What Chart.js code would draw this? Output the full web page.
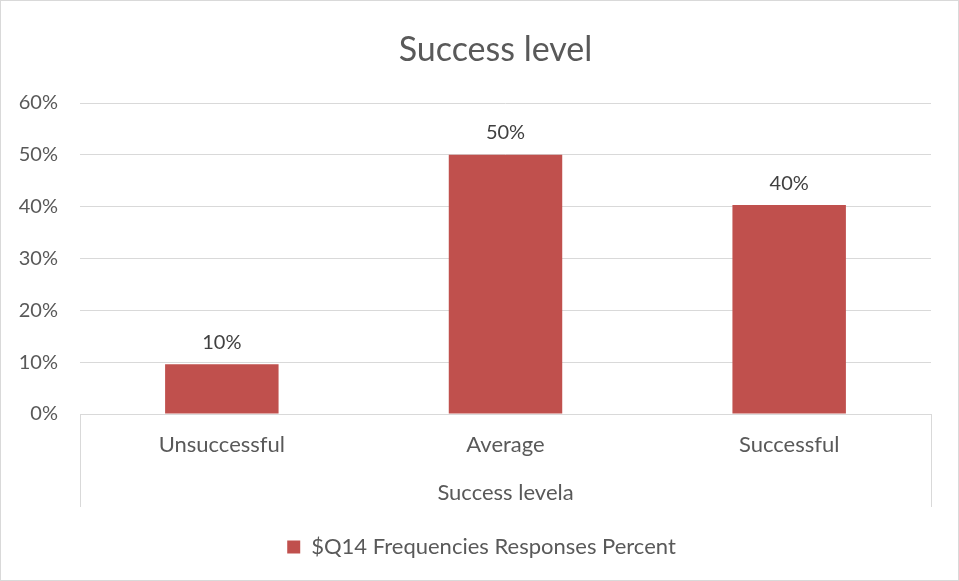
<!DOCTYPE html>
<html>
<head>
<meta charset="utf-8">
<script src="https://cdn.jsdelivr.net/npm/chart.js@4"></script>
<style>
  html, body { margin: 0; padding: 0; background: #fff; }
  #wrap { width: 959px; height: 581px; }
</style>
</head>
<body>
<div id="wrap"><canvas id="chart" width="959" height="581"></canvas></div>
<script>
const categories = ['Unsuccessful', 'Average', 'Successful'];
const percents = [9.6, 50.0, 40.3];
const valueLabels = ['10%', '50%', '40%'];
const yTicks = [0, 10, 20, 30, 40, 50, 60];

const grey = '#d9d9d9';
const textCol = '#595959';
const font = 'Lato, "Open Sans", sans-serif';

// border round the whole chart, the group box under the axis and the value labels
const extras = {
  id: 'extras',
  afterLayout(chart) {
    // title and legend sit a little right of the canvas centre
    chart.titleBlock.left += 30;
    chart.titleBlock.right += 30;
    chart.legend.left += 16;
    chart.legend.right += 16;
  },
  afterDraw(chart) {
    const ctx = chart.ctx;
    const a = chart.chartArea;
    ctx.save();
    ctx.strokeStyle = grey;
    ctx.lineWidth = 1;
    ctx.beginPath();
    ctx.moveTo(Math.round(a.left) + 0.5, a.bottom);
    ctx.lineTo(Math.round(a.left) + 0.5, a.bottom + 93);
    ctx.moveTo(Math.round(a.right) + 0.5, a.bottom);
    ctx.lineTo(Math.round(a.right) + 0.5, a.bottom + 93);
    ctx.stroke();
    ctx.strokeRect(0.5, 0.5, chart.width - 1, chart.height - 1);

    const meta = chart.getDatasetMeta(0);
    ctx.fillStyle = '#404040';
    ctx.font = '20px ' + font;
    ctx.textAlign = 'center';
    ctx.textBaseline = 'middle';
    meta.data.forEach((bar, i) => {
      ctx.fillText(valueLabels[i], bar.x, bar.y - 22);
    });
    ctx.restore();
  }
};

new Chart(document.getElementById('chart').getContext('2d'), {
  type: 'bar',
  data: {
    labels: categories,
    datasets: [{
      label: '$Q14 Frequencies Responses Percent',
      data: percents,
      backgroundColor: '#c0504d',
      borderWidth: 0,
      categoryPercentage: 1,
      barPercentage: 0.4
    }]
  },
  options: {
    responsive: false,
    animation: false,
    layout: { padding: { left: 0, right: 28, top: 0, bottom: 13 } },
    plugins: {
      title: {
        display: true,
        text: 'Success level',
        color: textCol,
        font: { family: font, size: 34, weight: 'normal' },
        padding: { top: 29.6, bottom: 32.6 }
      },
      legend: {
        position: 'bottom',
        labels: {
          color: textCol,
          font: { family: font, size: 22 },
          boxWidth: 13,
          boxHeight: 13,
          padding: 10
        }
      },
      tooltip: { enabled: false }
    },
    scales: {
      x: {
        grid: { display: false, drawTicks: false },
        border: { display: true, color: grey },
        ticks: { color: textCol, font: { family: font, size: 22 }, padding: 18 },
        title: {
          display: true,
          text: 'Success levela',
          color: textCol,
          font: { family: font, size: 22 },
          padding: { top: 22, bottom: 20 }
        },
        afterFit(scale) { scale.height = 112; }
      },
      y: {
        min: 0,
        max: 60,
        afterBuildTicks(scale) { scale.ticks = yTicks.map(v => ({ value: v })); },
        grid: { color: grey, drawTicks: false },
        border: { display: false },
        ticks: {
          color: textCol,
          font: { family: font, size: 20 },
          padding: 22,
          callback: v => v + '%'
        },
        afterFit(scale) { scale.width = 80; }
      }
    }
  },
  plugins: [extras]
});
</script>
</body>
</html>
